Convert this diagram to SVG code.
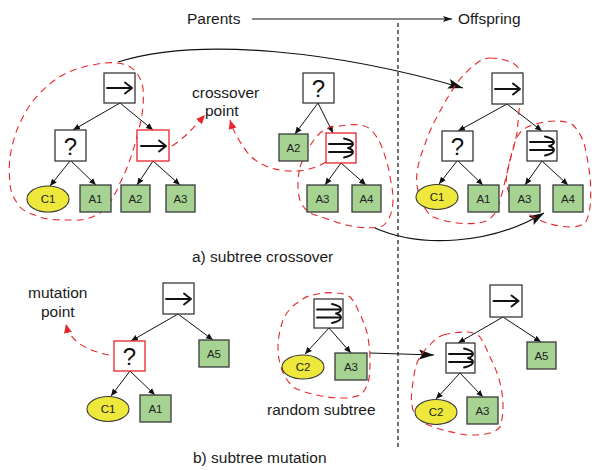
<svg xmlns="http://www.w3.org/2000/svg" width="592" height="470" viewBox="0 0 592 470">
  <style>
    .bg { fill: #ffffff; }
    .ctl { fill: #ffffff; stroke: #3a3a3a; stroke-width: 1.3; }
    .ctl-sel { fill: #ffffff; stroke: #e8262a; stroke-width: 1.3; }
    .act { fill: #a6d292; stroke: #3a3a3a; stroke-width: 1.3; }
    .cond { fill: #eee83c; stroke: #3a3a3a; stroke-width: 1.1; }
    .icon { fill: none; stroke: #111111; stroke-width: 1.9; stroke-linecap: round; stroke-linejoin: round; }
    .lbl { font-family: "Liberation Sans", Arial, sans-serif; font-size: 11.5px; fill: #222222; text-anchor: middle; }
    .q { font-family: "Liberation Sans", Arial, sans-serif; font-size: 24px; fill: #111111; text-anchor: middle; }
    .cap { font-family: "Liberation Sans", Arial, sans-serif; font-size: 15.5px; fill: #1a1a1a; }
    .edge { fill: none; stroke: #111111; stroke-width: 1; marker-end: url(#tip); }
    .big { fill: none; stroke: #111111; stroke-width: 1.2; marker-end: url(#bigtip); }
    .blob { fill: none; stroke: #e8262a; stroke-width: 1.1; stroke-dasharray: 7 5; }
    .red { fill: none; stroke: #e8262a; stroke-width: 1.1; stroke-dasharray: 7 5; marker-end: url(#redtip); }
    .divider { fill: none; stroke: #111111; stroke-width: 1.2; stroke-dasharray: 4 3; }
  </style>
  <defs>
    <marker id="tip" markerUnits="userSpaceOnUse" markerWidth="8" markerHeight="8" viewBox="0 0 8 8" refX="7" refY="4" orient="auto">
      <path d="M0,1 L7,4 L0,7 Z" fill="#111111"/>
    </marker>
    <marker id="bigtip" markerUnits="userSpaceOnUse" markerWidth="16" markerHeight="12" viewBox="0 0 16 12" refX="15" refY="6" orient="auto">
      <path d="M0,1 L15,6 L0,11 L3,6 Z" fill="#111111"/>
    </marker>
    <marker id="headtip" markerUnits="userSpaceOnUse" markerWidth="10" markerHeight="8" viewBox="0 0 10 8" refX="9" refY="4" orient="auto">
      <path d="M0,1 L9,4 L0,7 L2,4 Z" fill="#111111"/>
    </marker>
    <marker id="redtip" markerUnits="userSpaceOnUse" markerWidth="10" markerHeight="10" viewBox="0 0 10 10" refX="9" refY="5" orient="auto">
      <path d="M0,1 L9,5 L0,9 Z" fill="#e8262a"/>
    </marker>
    <!-- sequence icon: single arrow -->
    <g id="seqIcon">
      <path class="icon" d="M3,15 L28,15 M21,9.5 L28,15 L21,20.5"/>
    </g>
    <!-- parallel icon: double arrow with wavy head -->
    <g id="parIcon">
      <path class="icon" d="M4,11 L27,11 M4,19 L27,19"/>
      <path class="icon" d="M19,5.5 Q28,7.5 28,11 Q28,13.5 23,15 Q28,16.5 28,19 Q28,22.5 19,24.5"/>
    </g>
  </defs>

  <rect class="bg" x="0" y="0" width="592" height="470"/>

  <!-- header -->
  <text class="cap" x="187" y="24">Parents</text>
  <text class="cap" x="458" y="24">Offspring</text>
  <path d="M252,19 L452,19" fill="none" stroke="#111111" stroke-width="1.1" marker-end="url(#headtip)"/>
  <path class="divider" d="M398,23 L398,448"/>

  <!-- captions -->
  <text class="cap" x="192" y="262">a) subtree crossover</text>
  <text class="cap" x="193" y="463">b) subtree mutation</text>
  <text class="cap" x="192" y="98">crossover</text>
  <text class="cap" x="205" y="116">point</text>
  <text class="cap" x="28" y="298">mutation</text>
  <text class="cap" x="41" y="317">point</text>
  <text class="cap" x="267" y="415">random subtree</text>

  <!-- connectors -->
  <g id="connectors">
    <!-- parent 1 -->
    <path class="edge" d="M120,103 L73,130"/>
    <path class="edge" d="M120,103 L153,130"/>
    <path class="edge" d="M70,161 L50,186"/>
    <path class="edge" d="M71,161 L96,185"/>
    <path class="edge" d="M153,161 L137,185"/>
    <path class="edge" d="M153,161 L180,185"/>
    <!-- parent 2 -->
    <path class="edge" d="M318,103 L295,134"/>
    <path class="edge" d="M318,103 L333,133"/>
    <path class="edge" d="M341,163 L325,185"/>
    <path class="edge" d="M341,163 L366,185"/>
    <!-- crossover offspring -->
    <path class="edge" d="M507,104 L458,131"/>
    <path class="edge" d="M507,104 L542,131"/>
    <path class="edge" d="M457,161 L439,184"/>
    <path class="edge" d="M458,161 L483,185"/>
    <path class="edge" d="M542,161 L525,185"/>
    <path class="edge" d="M542,161 L568,185"/>
    <!-- mutation parent -->
    <path class="edge" d="M178,314 L131,341"/>
    <path class="edge" d="M178,314 L213,340"/>
    <path class="edge" d="M130,371 L111,396"/>
    <path class="edge" d="M130,371 L155,395"/>
    <!-- random subtree -->
    <path class="edge" d="M329,328 L305,354"/>
    <path class="edge" d="M329,328 L351,353"/>
    <!-- mutation offspring -->
    <path class="edge" d="M503,317 L458,343"/>
    <path class="edge" d="M503,317 L541,342"/>
    <path class="edge" d="M460,373 L436,399"/>
    <path class="edge" d="M460,373 L483,397"/>

    <!-- transfer arrows -->
    <path class="big" d="M118,62 C200,36 340,52 463,88"/>
    <path class="big" d="M375,228 C420,248 490,245 544,213"/>
    <path class="big" d="M370,353 L434,355"/>

    <!-- selection markers -->
    <path class="red" d="M172,146 C185,138 195,126 205,115"/>
    <path class="red" d="M326,162 C300,178 262,172 247,152 C238,140 233,130 230,120"/>
    <path class="red" d="M109,355 C88,351 70,342 66,324"/>

    <!-- subtree outlines -->
    <path class="blob" d="M117,63 C128,64 136,68 142,83 C145,95 143,115 138,133 C134,148 128,168 120,183 C115,195 110,205 100,213 C90,219 80,221 73,220 C60,220 50,220 43,218 C32,214 24,212 20,207 C13,198 10,190 10,183 C9,174 9,165 10,157 C12,145 15,133 20,123 C27,108 33,100 40,93 C48,85 57,77 67,73 C75,69 85,66 93,65 C101,63 110,62 117,63 Z"/>
    <path class="blob" d="M300,167 C303,158 312,140 320,133 C327,127 334,126 340,126 C347,125 354,124 360,125 C366,126 370,128 373,132 C378,138 381,144 383,150 C386,159 389,168 390,177 C392,186 393,193 393,200 C393,208 391,215 388,220 C386,224 383,226 380,227 C372,228 365,228 357,227 C348,226 339,223 330,220 C322,217 315,215 310,213 C305,210 302,205 300,200 C298,194 298,189 298,183 C298,177 299,172 300,167 Z"/>
    <path class="blob" d="M490,58 C499,58 507,60 513,63 C518,66 521,71 522,77 C523,85 522,93 520,100 C519,111 518,122 517,133 C515,142 513,151 510,160 C508,170 505,180 503,190 C501,197 499,204 497,210 C494,216 489,220 483,222 C475,224 466,224 457,223 C449,222 440,220 433,217 C427,213 422,205 420,197 C417,189 416,181 417,173 C418,165 420,157 423,150 C427,138 431,127 437,117 C443,105 450,93 457,83 C463,75 470,68 477,63 C481,60 485,58 490,58 Z"/>
    <path class="blob" d="M510,160 C512,152 514,144 517,137 C521,130 526,127 533,125 C541,122 549,121 557,121 C563,121 569,122 573,125 C579,131 583,139 585,147 C587,157 589,167 590,177 C591,187 591,197 590,207 C589,213 588,219 585,223 C581,226 576,227 570,227 C562,227 554,225 547,223 C541,221 535,218 530,215 C525,212 520,208 517,203 C513,199 510,195 508,190 C506,184 506,179 507,173 C508,168 509,164 510,160 Z"/>
    <path class="blob" d="M313,295 C321,293 329,292 337,293 C342,293 347,295 350,297 C354,301 356,305 358,310 C362,318 365,325 367,333 C369,342 370,351 370,360 C370,368 370,376 368,383 C366,388 364,392 360,395 C355,397 349,398 343,398 C334,398 325,397 317,395 C308,393 300,391 293,387 C288,382 284,376 282,370 C279,362 278,355 278,347 C278,338 280,329 283,320 C286,313 291,307 297,303 C302,299 307,296 313,295 Z"/>
    <path class="blob" d="M443,335 C451,333 459,332 467,332 C472,332 477,334 480,337 C484,343 487,350 490,357 C494,365 498,374 500,383 C502,391 503,399 503,407 C503,414 502,421 500,427 C497,430 494,432 490,433 C482,435 475,435 467,435 C459,434 451,432 443,430 C436,428 429,426 423,422 C418,418 415,414 413,410 C411,403 411,397 412,390 C413,381 414,372 417,363 C420,356 424,350 430,345 C434,340 438,337 443,335 Z"/>
  </g>

  <!-- parent 1 -->
  <g id="p1-root"><rect class="ctl" x="104" y="73" width="31" height="30"/><use href="#seqIcon" transform="translate(104,73)"/></g>
  <g id="p1-sel"><rect class="ctl" x="55" y="130" width="31" height="31"/><text class="q" x="70.5" y="155">?</text></g>
  <g id="p1-seq"><rect class="ctl-sel" x="137" y="130" width="32" height="31"/><use href="#seqIcon" transform="translate(138,131)"/></g>
  <g id="p1-c1"><ellipse class="cond" cx="48" cy="199" rx="21" ry="13"/><text class="lbl" x="48" y="203">C1</text></g>
  <g id="p1-a1"><rect class="act" x="80" y="185" width="31" height="27"/><text class="lbl" x="95.5" y="202.5">A1</text></g>
  <g id="p1-a2"><rect class="act" x="121" y="185" width="29" height="27"/><text class="lbl" x="135.5" y="202.5">A2</text></g>
  <g id="p1-a3"><rect class="act" x="166" y="185" width="29" height="27"/><text class="lbl" x="180.5" y="202.5">A3</text></g>

  <!-- parent 2 -->
  <g id="p2-root"><rect class="ctl" x="303" y="73" width="31" height="30"/><text class="q" x="318.5" y="97">?</text></g>
  <g id="p2-a2"><rect class="act" x="279" y="134" width="29" height="27"/><text class="lbl" x="293.5" y="151.5">A2</text></g>
  <g id="p2-par"><rect class="ctl-sel" x="326" y="133" width="30" height="30"/><use href="#parIcon" transform="translate(325,133)"/></g>
  <g id="p2-a3"><rect class="act" x="307" y="185" width="31" height="27"/><text class="lbl" x="322.5" y="202.5">A3</text></g>
  <g id="p2-a4"><rect class="act" x="352" y="185" width="29" height="27"/><text class="lbl" x="366.5" y="202.5">A4</text></g>

  <!-- crossover offspring -->
  <g id="o1-root"><rect class="ctl" x="492" y="73" width="31" height="31"/><use href="#seqIcon" transform="translate(492,74)"/></g>
  <g id="o1-sel"><rect class="ctl" x="442" y="131" width="31" height="30"/><text class="q" x="457.5" y="155">?</text></g>
  <g id="o1-par"><rect class="ctl" x="527" y="131" width="30" height="30"/><use href="#parIcon" transform="translate(526,131)"/></g>
  <g id="o1-c1"><ellipse class="cond" cx="437" cy="197" rx="21" ry="12.5"/><text class="lbl" x="437" y="201">C1</text></g>
  <g id="o1-a1"><rect class="act" x="468" y="185" width="31" height="27"/><text class="lbl" x="483.5" y="202.5">A1</text></g>
  <g id="o1-a3"><rect class="act" x="509" y="185" width="31" height="27"/><text class="lbl" x="524.5" y="202.5">A3</text></g>
  <g id="o1-a4"><rect class="act" x="553" y="185" width="30" height="27"/><text class="lbl" x="568" y="202.5">A4</text></g>

  <!-- mutation parent -->
  <g id="m-root"><rect class="ctl" x="163" y="283" width="31" height="31"/><use href="#seqIcon" transform="translate(163,284)"/></g>
  <g id="m-sel"><rect class="ctl-sel" x="114" y="341" width="31" height="30"/><text class="q" x="129.5" y="365">?</text></g>
  <g id="m-a5"><rect class="act" x="199" y="340" width="30" height="27"/><text class="lbl" x="214" y="357.5">A5</text></g>
  <g id="m-c1"><ellipse class="cond" cx="108" cy="409" rx="21" ry="12.5"/><text class="lbl" x="108" y="413">C1</text></g>
  <g id="m-a1"><rect class="act" x="140" y="395" width="31" height="27"/><text class="lbl" x="155.5" y="412.5">A1</text></g>

  <!-- random subtree -->
  <g id="r-par"><rect class="ctl" x="314" y="299" width="29" height="29"/><use href="#parIcon" transform="translate(313,298.5)"/></g>
  <g id="r-c2"><ellipse class="cond" cx="303" cy="367" rx="21" ry="12"/><text class="lbl" x="303" y="371">C2</text></g>
  <g id="r-a3"><rect class="act" x="335" y="353" width="32" height="27"/><text class="lbl" x="351" y="370.5">A3</text></g>

  <!-- mutation offspring -->
  <g id="o2-root"><rect class="ctl" x="490" y="285" width="32" height="32"/><use href="#seqIcon" transform="translate(490.5,286)"/></g>
  <g id="o2-par"><rect class="ctl" x="446" y="343" width="29" height="30"/><use href="#parIcon" transform="translate(445,343)"/></g>
  <g id="o2-a5"><rect class="act" x="527" y="342" width="29" height="27"/><text class="lbl" x="541.5" y="359.5">A5</text></g>
  <g id="o2-c2"><ellipse class="cond" cx="436" cy="412" rx="21" ry="12.5"/><text class="lbl" x="436" y="416">C2</text></g>
  <g id="o2-a3"><rect class="act" x="467" y="397" width="31" height="27"/><text class="lbl" x="482.5" y="414.5">A3</text></g>
</svg>
